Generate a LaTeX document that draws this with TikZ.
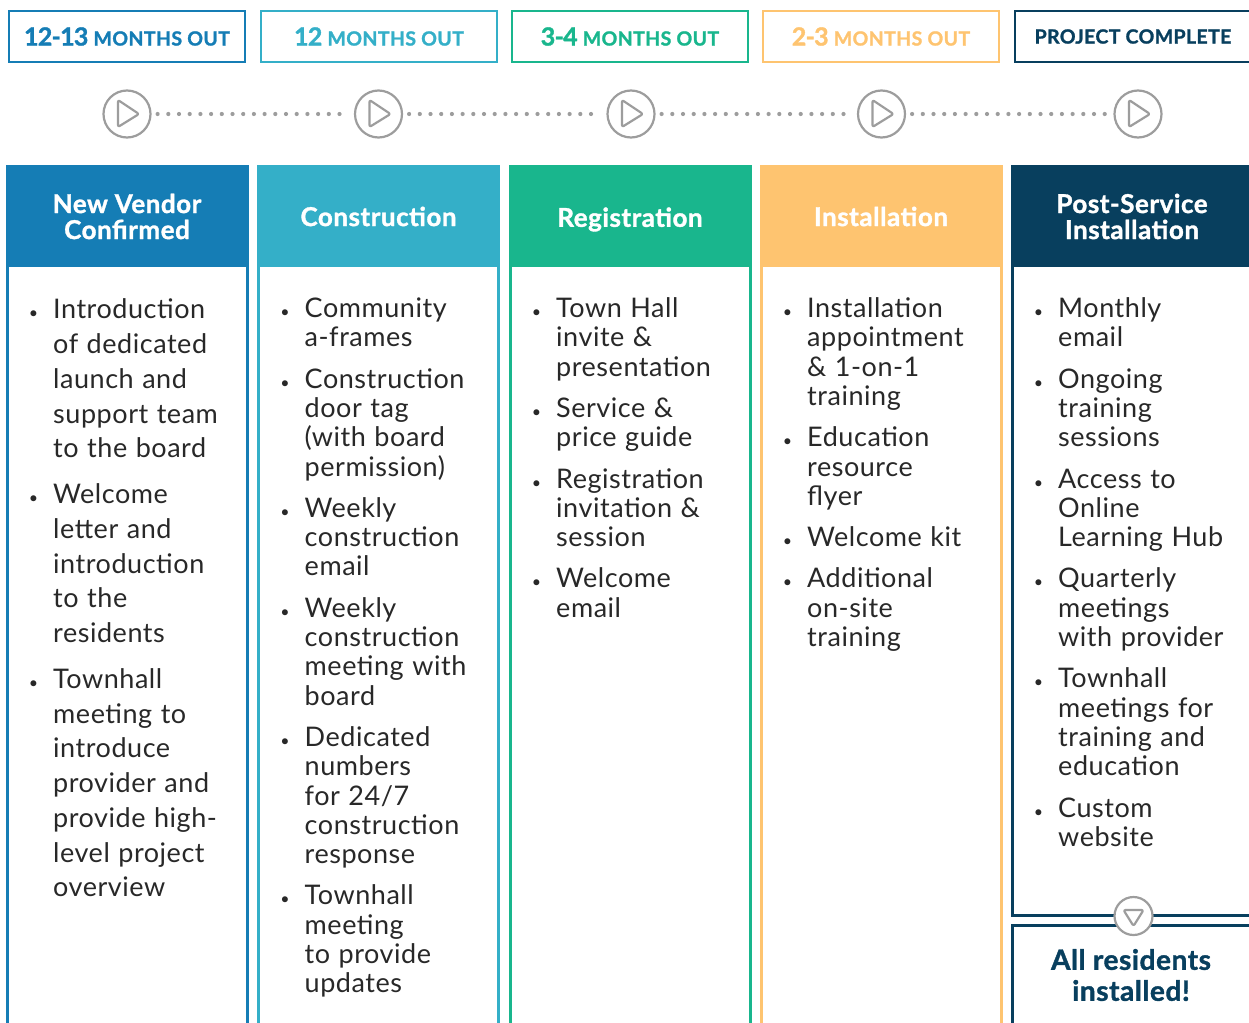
\documentclass[tikz,border=0pt]{standalone}
\usepackage{fontspec}
\setmainfont{Lato}[LetterSpace=2,BoldFeatures={FakeBold=1.3}]
\usepackage{tikz}
\usetikzlibrary{positioning}
\usepackage{xcolor}
\definecolor{vendor}{RGB}{21,125,181}
\definecolor{constr}{RGB}{52,175,200}
\definecolor{regis}{RGB}{25,182,141}
\definecolor{install}{RGB}{254,196,112}
\definecolor{post}{RGB}{8,63,94}
\definecolor{ring}{RGB}{157,157,157}
\definecolor{ink}{RGB}{40,40,40}
\tikzstyle{tag}=[draw,line width=2.5pt,minimum width=236pt,minimum height=51pt,inner sep=0pt,font=\bfseries\fontsize{19.5}{19.5}\selectfont]
\tikzstyle{head}=[text=white,align=center,font=\bfseries\fontsize{26}{26}\selectfont]
\tikzstyle{body}=[anchor=north west,text width=214pt,inner sep=0pt,text=ink]
\tikzstyle{play}=[circle,draw=ring,line width=2.2pt,minimum size=47pt,inner sep=0pt,fill=white]
\tikzstyle{tri}=[draw=ring,line width=2.2pt,rounded corners=2pt,line join=round]
\tikzstyle{dots}=[draw=ring,line width=4.2pt,line cap=round,dash pattern=on 0pt off 10.7pt,shorten <=6pt,shorten >=6pt]
\newcommand{\bignum}[1]{{\fontsize{25}{25}\selectfont\addfontfeature{LetterSpace=-3}#1}}
\newenvironment{stagelist}[2]{\raggedright\fontsize{27}{#1}\selectfont\spaceskip=8.5pt plus 3pt minus 1pt
  \begin{list}{\fontsize{16}{16}\selectfont\textbullet}{\setlength{\leftmargin}{20pt}\setlength{\labelsep}{15pt}%
  \setlength{\itemsep}{#2}\setlength{\parsep}{0pt}\setlength{\topsep}{0pt}\setlength{\partopsep}{0pt}}}{\end{list}}

\begin{document}
\begin{tikzpicture}[x=1pt,y=-1pt]
    \useasboundingbox (0,0) rectangle (1249,1022);
    % stage columns
    \foreach \x/\clr in {7/vendor, 258.5/constr, 510/regis, 761/install}
    {
        \fill[\clr] (\x,166) rectangle ++(240,101);
        \draw[\clr,line width=3pt] (\x,166) rectangle ++(240,900);
    }
    \fill[post] (1012,166) rectangle (1254,267);
    \draw[post,line width=3pt] (1012,166) rectangle (1254,915);
    \draw[post,line width=3pt] (1012,925) rectangle (1254,1100);

    % time labels
    \foreach \pos/\clr/\txt in {{(127,36.5)/vendor/\bignum{12-13} MONTHS OUT}, {(379,36.5)/constr/\bignum{12} MONTHS OUT}, {(630,36.5)/regis/\bignum{3-4} MONTHS OUT}, {(881,36.5)/install/\bignum{2-3} MONTHS OUT}}
        \node[tag,draw=\clr,text=\clr] (t\clr) at \pos {\txt};
    \node[tag,draw=post,text=post] (tpost) at (1133,36.5) {PROJECT COMPLETE};

    % milestones
    \foreach \pos/\name in {{(127,114)/1}, {(378.5,114)/2}, {(631,114)/3}, {(881.5,114)/4}, {(1138,114)/5}}
    {
        \node[play] (p\name) at \pos {};
        \draw[tri,shift={(p\name.center)}] (-9,-14) -- (12,0) -- (-9,13) -- cycle;
    }
    \foreach \source/\dest in {1/2, 2/3, 3/4, 4/5}
        \path[dots] (p\source) -- (p\dest);

    % headers
    \foreach \pos/\name/\txt in {{(127,216.5)/vendor/New Vendor\\Confirmed}, {(378.5,216.5)/constr/Construction}, {(630,219.5)/regis/Registration}, {(881,216.5)/install/Installation}, {(1132,216.5)/post/Post-Service\\Installation}}
        \node[head] (h\name) at \pos {\txt};

    % bullet lists
    \node[body] (bvendor) at (33,284) {\begin{stagelist}{34.7pt}{11.3pt}
        \item Introduction\\of dedicated\\launch and\\support team\\to the board
        \item Welcome\\letter and\\introduction\\to the\\residents
        \item Townhall\\meeting to\\introduce\\provider and\\provide high-\\level project\\overview
    \end{stagelist}};
    \node[body] (bconstr) at (284.5,288) {\begin{stagelist}{29.3pt}{12pt}
        \item Community\\a-frames
        \item Construction\\door tag\\(with board\\permission)
        \item Weekly\\construction\\email
        \item Weekly\\construction\\meeting with\\board
        \item Dedicated\\numbers\\for 24/7\\construction\\response
        \item Townhall\\meeting\\to provide\\updates
    \end{stagelist}};
    \node[body] (bregis) at (536,288) {\begin{stagelist}{29.3pt}{12pt}
        \item Town Hall\\invite \&\\presentation
        \item Service \&\\price guide
        \item Registration\\invitation \&\\session
        \item Welcome\\email
    \end{stagelist}};
    \node[body] (binstall) at (787,288) {\begin{stagelist}{29.3pt}{12pt}
        \item Installation\\appointment\\\& 1-on-1\\training
        \item Education\\resource\\flyer
        \item Welcome kit
        \item Additional\\on-site\\training
    \end{stagelist}};
    \node[body] (bpost) at (1038,288) {\begin{stagelist}{29.3pt}{12pt}
        \item Monthly\\email
        \item Ongoing\\training\\sessions
        \item Access to\\Online\\Learning Hub
        \item Quarterly\\meetings\\with provider
        \item Townhall\\meetings for\\training and\\education
        \item Custom\\website
    \end{stagelist}};

    % project complete
    \node[play,minimum size=38pt] (pdone) at (1133.5,916) {};
    \draw[tri,shift={(pdone.center)}] (-10,-6) -- (10,-6) -- (0,10) -- cycle;
    \node[text=post,align=center,font=\bfseries\fontsize{28}{31}\selectfont] (done) at (1131,975) {All residents\\installed!};
\end{tikzpicture}
\end{document}
